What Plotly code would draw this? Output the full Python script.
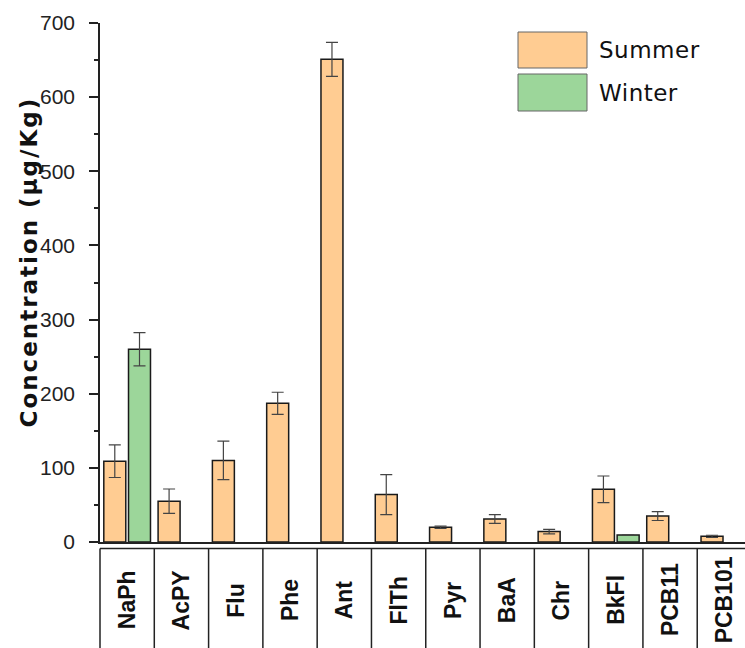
import plotly.graph_objects as go

# PAH / PCB concentrations by compound, summer vs winter
compounds = ["NaPh", "AcPY", "Flu", "Phe", "Ant", "FlTh", "Pyr", "BaA", "Chr", "BkFl", "PCB11", "PCB101"]
summer = [109, 55, 110, 187, 651, 64, 20, 31, 14, 71, 35, 7.6]
summer_err = [22, 16.5, 26, 15, 23, 27, 1.5, 6, 3, 18, 6, 1.5]
winter = [260, None, None, None, None, None, None, None, None, 9.5, None, None]
winter_err = [22.5, None, None, None, None, None, None, None, None, 0, None, None]

SUMMER_COLOR = "#FFCC92"
WINTER_COLOR = "#9CD69A"
FONT = "Liberation Sans, Arial, sans-serif"
WIDE_FONT = "DejaVu Sans, Liberation Sans, sans-serif"

W, H = 745, 648
ML, MR, MT, MB = 100, 0, 23, 106
plot_h = H - MT - MB

fig = go.Figure()
fig.add_trace(go.Bar(
    x=compounds, y=summer, name="Summer",
    marker=dict(color=SUMMER_COLOR, line=dict(color="#1a1a1a", width=1.5)),
    error_y=dict(type="data", array=summer_err, color="#444444", thickness=1.2, width=6),
))
fig.add_trace(go.Bar(
    x=compounds, y=winter, name="Winter",
    marker=dict(color=WINTER_COLOR, line=dict(color="#1a1a1a", width=1.5)),
    error_y=dict(type="data", array=winter_err, color="#444444", thickness=1.2, width=6),
))

def py(px):
    """pixel offset below plot bottom -> paper y"""
    return -px / plot_h

shapes = []
line_style = dict(color="#222222", width=1.5)
# category table: top rule and column dividers
shapes.append(dict(type="line", xref="paper", yref="paper", x0=0, x1=1,
                   y0=py(6.5), y1=py(6.5), line=line_style))
shapes.append(dict(type="line", xref="paper", yref="paper", x0=0, x1=0,
                   y0=py(6.5), y1=py(120), line=line_style))
for i in range(1, len(compounds)):
    shapes.append(dict(type="line", xref="x", yref="paper", x0=i - 0.5, x1=i - 0.5,
                       y0=py(6.5), y1=py(120), line=line_style))

annotations = []
for i, name in enumerate(compounds):
    annotations.append(dict(x=i, y=py(58), xref="x", yref="paper", text=f"<b>{name}</b>",
                            showarrow=False, textangle=-90, xanchor="center", yanchor="middle",
                            font=dict(family=FONT, size=23, color="#111111")))

# y-axis title
annotations.append(dict(x=0, y=0.5, xref="paper", yref="paper", xshift=-72, yshift=20,
                        text="<span style='letter-spacing:2px'><b>Concentration (μg/Kg)</b></span>",
                        showarrow=False, textangle=-90,
                        xanchor="center", yanchor="middle",
                        font=dict(family=WIDE_FONT, size=23, color="#111111")))

# legend drawn as swatches + labels
def fx(px):
    return (px - ML) / (W - ML - MR)

def fy(px):
    return (H - MB - px) / plot_h

legend_items = [("Summer", SUMMER_COLOR, 32, 68), ("Winter", WINTER_COLOR, 74, 111)]
for label, color, top, bottom in legend_items:
    shapes.append(dict(type="rect", xref="paper", yref="paper", x0=fx(518), x1=fx(587),
                       y0=fy(bottom), y1=fy(top), fillcolor=color,
                       line=dict(color="#666666", width=1)))
    annotations.append(dict(x=fx(597), y=fy((top + bottom) / 2), xref="paper", yref="paper",
                            text=f"<span style='letter-spacing:0.5px'>{label}</span>",
                            showarrow=False, xanchor="left", yanchor="middle",
                            font=dict(family=WIDE_FONT, size=23, color="#111111")))

fig.update_layout(
    width=W, height=H,
    margin=dict(l=ML, r=MR, t=MT, b=MB, pad=0),
    paper_bgcolor="white", plot_bgcolor="white",
    barmode="group", bargap=0.09, bargroupgap=0.11,
    showlegend=False,
    shapes=shapes, annotations=annotations,
    font=dict(family=FONT, color="#111111"),
)
fig.update_xaxes(
    range=[-0.5, 11.38], showticklabels=False, ticks="",
    showline=True, linecolor="#222222", linewidth=1.5, showgrid=False, zeroline=False,
)
fig.update_yaxes(
    range=[0, 700], dtick=100, ticks="outside", ticklen=9, tickwidth=1.5, tickcolor="#222222",
    showline=True, linecolor="#222222", linewidth=1.5, showgrid=False, zeroline=False,
    tickfont=dict(family=FONT, size=21, color="#222222"), ticklabelstandoff=10,
    minor=dict(dtick=50, ticks="outside", ticklen=4, tickwidth=1.5, tickcolor="#222222"),
)

fig.write_html("out.html")
